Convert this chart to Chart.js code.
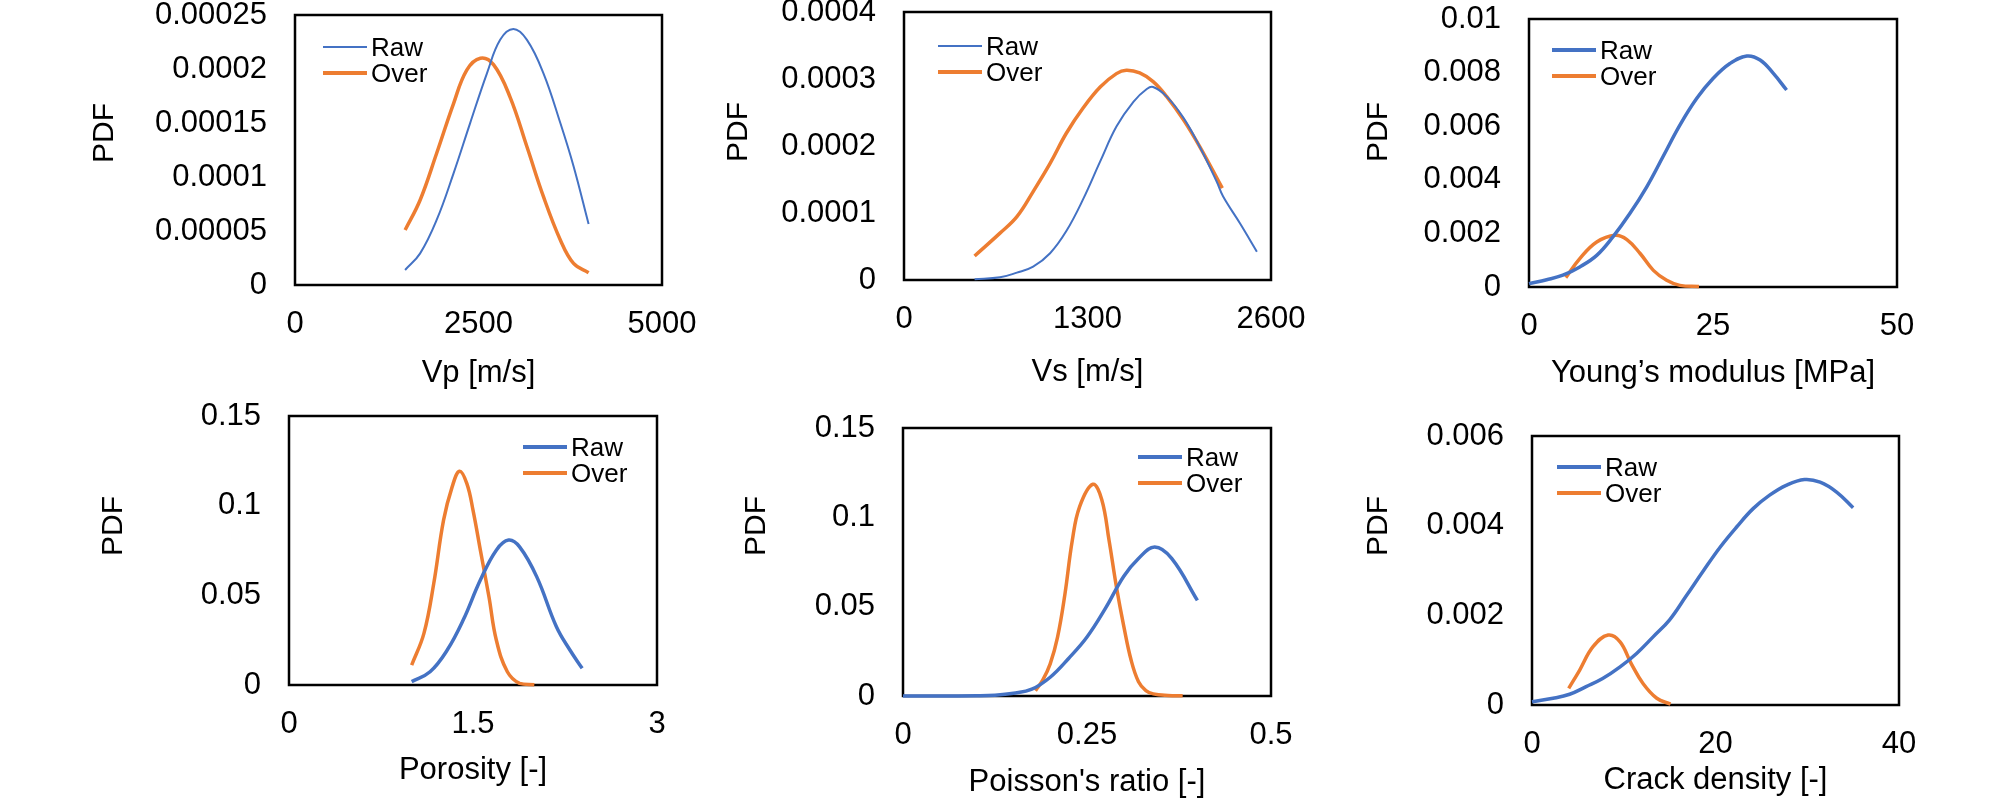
<!DOCTYPE html>
<html>
<head>
<meta charset="utf-8">
<script src="https://cdn.jsdelivr.net/npm/chart.js@4.4.0/dist/chart.umd.min.js"></script>
<style>
  body { margin: 0; width: 2008px; height: 804px; overflow: hidden; background: #fff; position: relative;
         font-family: "Liberation Sans", Arial, sans-serif; color: #000; }
  .panel { position: absolute; }
  .pdf { position: absolute; font-size: 30px; white-space: nowrap; transform: translate(-50%, -50%) rotate(-90deg); }
  .legend { position: absolute; font-size: 26px; }
  .legend .row { display: flex; align-items: center; height: 26px; }
  .legend .sw { display: inline-block; width: 44px; margin-right: 4px; }
</style>
</head>
<body>
<script>
const BLUE = '#4472C4';
const ORANGE = '#ED7D31';
const FONT = '"Liberation Sans", Arial, sans-serif';

// Vp [m/s]
const vpRawX = [1500, 1705, 1930, 2160, 2385, 2615, 2795, 2975, 3160, 3385, 3615, 3795, 4000];
const vpRaw = [0.0000139, 0.0000293, 0.0000602, 0.0001034, 0.0001497, 0.000196, 0.000227, 0.000237, 0.000227, 0.000196, 0.00015, 0.00011, 0.0000565];
const vpOverX = [1500, 1705, 1930, 2160, 2340, 2525, 2705, 2930, 3160, 3385, 3615, 3795, 4000];
const vpOver = [0.0000509, 0.0000787, 0.000122, 0.000168, 0.000199, 0.00021, 0.000204, 0.000174, 0.000128, 0.0000818, 0.0000417, 0.00002, 0.0000114];

// Vs [m/s]
const vsRawX = [500, 680, 800, 915, 1035, 1150, 1270, 1390, 1505, 1625, 1720, 1765, 1860, 1980, 2095, 2215, 2260, 2380, 2500];
const vsRaw = [0.000001, 0.000004, 0.000011, 0.00002, 0.00004, 0.000073, 0.000121, 0.000177, 0.000229, 0.000266, 0.000285, 0.000288, 0.000274, 0.000242, 0.000199, 0.000147, 0.000125, 0.0000847, 0.0000423];
const vsOverX = [500, 680, 800, 915, 1035, 1150, 1270, 1390, 1505, 1575, 1670, 1765, 1860, 1980, 2095, 2255];
const vsOver = [0.0000359, 0.00007, 0.0000946, 0.000132, 0.000174, 0.000219, 0.000257, 0.000288, 0.000308, 0.000313, 0.000309, 0.000296, 0.000274, 0.000239, 0.000199, 0.000137];

// Young's modulus [MPa]
const ymRawX = [0, 2.4, 4.6, 6.9, 9.2, 11.4, 13.7, 16, 18.2, 20.5, 22.8, 25, 27.3, 29.6, 31.4, 33.2, 35];
const ymRaw = [0.000125, 0.00027, 0.00044, 0.00075, 0.00118, 0.00187, 0.00274, 0.00374, 0.00486, 0.00604, 0.00704, 0.00778, 0.00834, 0.00862, 0.00847, 0.00797, 0.00735];
const ymOverX = [5, 6.9, 9.2, 11.7, 13.3, 15.1, 16.9, 18.7, 20.5, 23.1];
const ymOver = [0.00035, 0.00106, 0.00168, 0.00193, 0.00177, 0.00125, 0.00062, 0.00025, 0.00006, 0.00002];

// Porosity [-]
const poRawX = [1.0, 1.15, 1.29, 1.42, 1.56, 1.69, 1.79, 1.88, 2.02, 2.18, 2.29, 2.39];
const poRaw = [0.0019, 0.0074, 0.0195, 0.0362, 0.0585, 0.0752, 0.0808, 0.077, 0.0603, 0.0325, 0.0195, 0.0093];
const poOverX = [1.0, 1.1, 1.18, 1.26, 1.33, 1.39, 1.45, 1.5, 1.56, 1.63, 1.69, 1.78, 1.88, 2.0];
const poOver = [0.0111, 0.0288, 0.0566, 0.0919, 0.1105, 0.1192, 0.1123, 0.0975, 0.0752, 0.0492, 0.0251, 0.0074, 0.0009, 0.0001];

// Poisson's ratio [-]
const prRawX = [0, 0.05, 0.1, 0.125, 0.15, 0.175, 0.2, 0.225, 0.25, 0.275, 0.3, 0.32, 0.342, 0.365, 0.4];
const prRaw = [0, 0, 0.0001, 0.0004, 0.0015, 0.0038, 0.0105, 0.021, 0.033, 0.049, 0.067, 0.077, 0.0834, 0.077, 0.0535];
const prOverX = [0.18, 0.19, 0.2, 0.21, 0.22, 0.23, 0.24, 0.258, 0.27, 0.28, 0.29, 0.3, 0.31, 0.32, 0.33, 0.34, 0.36, 0.38];
const prOver = [0.003, 0.009, 0.018, 0.033, 0.057, 0.087, 0.106, 0.1185, 0.11, 0.087, 0.061, 0.039, 0.02, 0.008, 0.003, 0.0012, 0.0003, 0.0001];

// Crack density [-]
const cdRawX = [0, 2.3, 4.1, 5.9, 7.7, 9.6, 11.4, 13.2, 15, 16.8, 18.7, 20.5, 22.3, 24.1, 25.9, 27.7, 29.7, 31.4, 33.2, 35];
const cdRaw = [0.000074, 0.00015, 0.00024, 0.00041, 0.00059, 0.00085, 0.00115, 0.00152, 0.0019, 0.00243, 0.003, 0.00352, 0.00397, 0.00438, 0.00468, 0.0049, 0.00503, 0.00497, 0.00475, 0.0044];
const cdOverX = [4, 5.2, 6.65, 8.3, 9.6, 10.8, 12.1, 13.6, 15.1];
const cdOver = [0.00037, 0.00078, 0.0013, 0.00156, 0.00141, 0.00093, 0.00048, 0.00015, 0.00002];

const panels = [
  { xTitle: 'Vp [m/s]', xMax: 5000, xStep: 2500, yMax: 0.00025, yStep: 0.00005,
    raw: [vpRawX, vpRaw], over: [vpOverX, vpOver], rawW: 2, overW: 3.5,
    box: [295, 15, 662, 285], pdf: [103, 133], titleY: 373, legend: [323, 47] },
  { xTitle: 'Vs [m/s]', xMax: 2600, xStep: 1300, yMax: 0.0004, yStep: 0.0001,
    raw: [vsRawX, vsRaw], over: [vsOverX, vsOver], rawW: 2, overW: 3.5,
    box: [904, 12, 1271, 280], pdf: [737, 132], titleY: 372, legend: [938, 46] },
  { xTitle: 'Young\u2019s modulus [MPa]', xMax: 50, xStep: 25, yMax: 0.01, yStep: 0.002,
    raw: [ymRawX, ymRaw], over: [ymOverX, ymOver], rawW: 3.5, overW: 3.5,
    box: [1529, 19, 1897, 287], pdf: [1377, 132], titleY: 373, legend: [1552, 50] },
  { xTitle: 'Porosity [-]', xMax: 3, xStep: 1.5, yMax: 0.15, yStep: 0.05,
    raw: [poRawX, poRaw], over: [poOverX, poOver], rawW: 3.5, overW: 3.5,
    box: [289, 416, 657, 685], pdf: [112, 526], titleY: 770, legend: [523, 447] },
  { xTitle: "Poisson's ratio [-]", xMax: 0.5, xStep: 0.25, yMax: 0.15, yStep: 0.05,
    raw: [prRawX, prRaw], over: [prOverX, prOver], rawW: 3.5, overW: 3.5,
    box: [903, 428, 1271, 696], pdf: [755, 526], titleY: 782, legend: [1138, 457] },
  { xTitle: 'Crack density [-]', xMax: 40, xStep: 20, yMax: 0.006, yStep: 0.002,
    raw: [cdRawX, cdRaw], over: [cdOverX, cdOver], rawW: 3.5, overW: 3.5,
    box: [1532, 436, 1899, 705], pdf: [1377, 526], titleY: 780, legend: [1557, 467] }
];

// black frame round the plot area, under the curves
const frame = {
  id: 'frame',
  beforeDatasetsDraw(chart) {
    const { ctx, chartArea: a } = chart;
    ctx.save();
    ctx.strokeStyle = '#000';
    ctx.lineWidth = 2.5;
    ctx.strokeRect(a.left, a.top, a.right - a.left, a.bottom - a.top);
    ctx.restore();
  }
};

const fmt = (v) => String(parseFloat(Number(v).toPrecision(8)));
const pts = (xs, ys) => xs.map((x, i) => ({ x: x, y: ys[i] }));

function series(label, xy, color, width) {
  return {
    label: label,
    data: pts(xy[0], xy[1]),
    borderColor: color,
    backgroundColor: color,
    borderWidth: width,
    pointRadius: 0,
    fill: false,
    clip: false,
    tension: 0.4
  };
}

panels.forEach((p) => {
  const [l, t, r, b] = p.box;
  const padTop = 50, padRight = 60, yWidth = 180;
  const left = l - yWidth, top = t - padTop;
  const w = (r - l) + yWidth + padRight;
  const bottom = p.titleY + 19;
  const h = bottom - top;

  const wrap = document.createElement('div');
  wrap.className = 'panel';
  wrap.style.left = left + 'px';
  wrap.style.top = top + 'px';
  const canvas = document.createElement('canvas');
  canvas.width = w;
  canvas.height = h;
  canvas.style.width = w + 'px';
  canvas.style.height = h + 'px';
  wrap.appendChild(canvas);
  document.body.appendChild(wrap);

  new Chart(canvas, {
    type: 'line',
    data: {
      datasets: [
        series('Raw', p.raw, BLUE, p.rawW),
        series('Over', p.over, ORANGE, p.overW)
      ]
    },
    options: {
      responsive: false,
      animation: false,
      layout: { padding: { top: padTop, right: padRight, left: 0, bottom: 0 } },
      plugins: { legend: { display: false }, tooltip: { enabled: false } },
      scales: {
        x: {
          type: 'linear', min: 0, max: p.xMax,
          grid: { display: false, drawTicks: false },
          border: { display: false },
          ticks: { stepSize: p.xStep, padding: 21, color: '#000', maxRotation: 0, autoSkip: false,
                   font: { family: FONT, size: 31 }, callback: fmt },
          title: { display: true, text: p.xTitle, color: '#000', padding: 0,
                   font: { family: FONT, size: 31 } },
          afterFit(s) { s.height = bottom - b; }
        },
        y: {
          type: 'linear', min: 0, max: p.yMax,
          grid: { display: false, drawTicks: false },
          border: { display: false },
          ticks: { stepSize: p.yStep, padding: 28, color: '#000', autoSkip: false,
                   font: { family: FONT, size: 31 }, callback: fmt },
          afterFit(s) { s.width = yWidth; }
        }
      }
    },
    plugins: [frame]
  });

  const pdf = document.createElement('div');
  pdf.className = 'pdf';
  pdf.textContent = 'PDF';
  pdf.style.left = p.pdf[0] + 'px';
  pdf.style.top = p.pdf[1] + 'px';
  document.body.appendChild(pdf);

  const lg = document.createElement('div');
  lg.className = 'legend';
  lg.style.left = p.legend[0] + 'px';
  lg.style.top = (p.legend[1] - 13) + 'px';
  [['Raw', BLUE, p.rawW], ['Over', ORANGE, p.overW]].forEach(([name, color, lw]) => {
    const row = document.createElement('div');
    row.className = 'row';
    const sw = document.createElement('span');
    sw.className = 'sw';
    sw.style.background = color;
    sw.style.height = lw + 'px';
    row.appendChild(sw);
    row.appendChild(document.createTextNode(name));
    lg.appendChild(row);
  });
  document.body.appendChild(lg);
});
</script>
</body>
</html>
